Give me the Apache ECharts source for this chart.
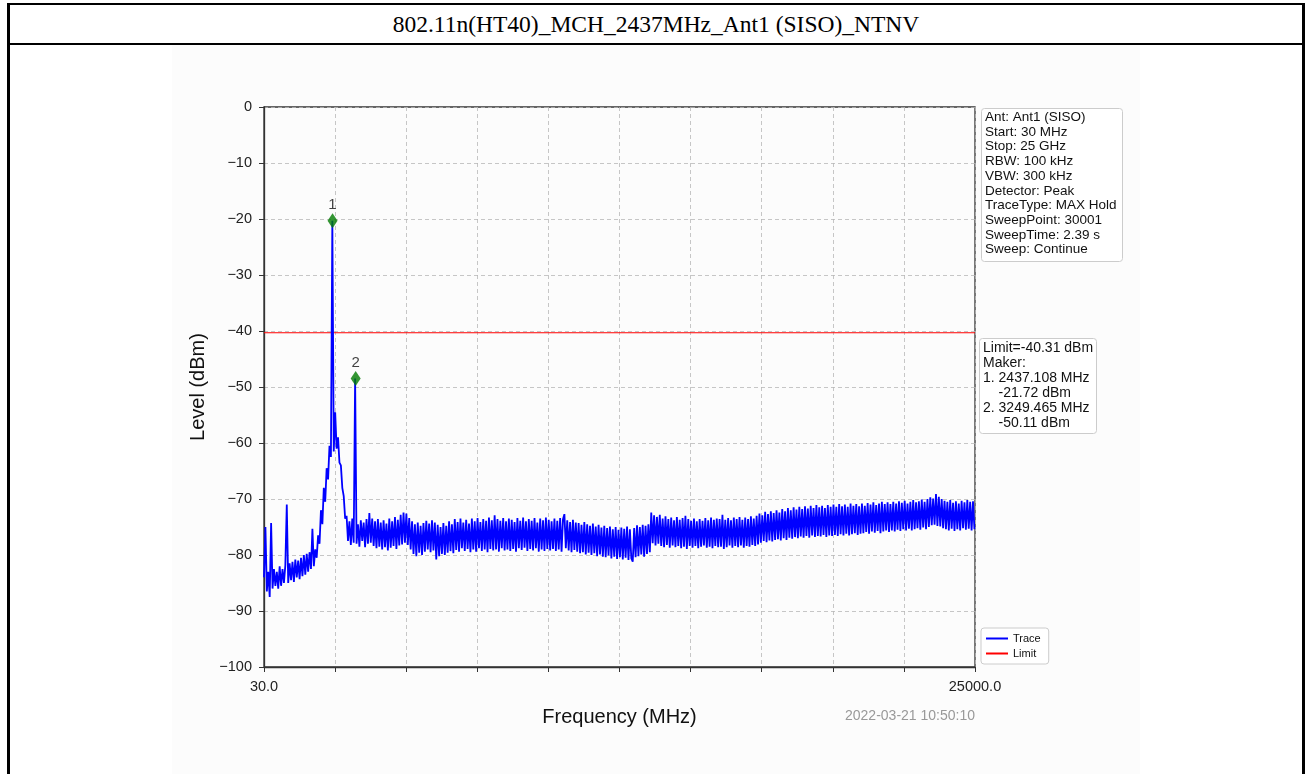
<!DOCTYPE html>
<html>
<head>
<meta charset="utf-8">
<script src="https://cdn.jsdelivr.net/npm/echarts@6/dist/echarts.min.js"></script>
<style>
  html, body { margin: 0; padding: 0; background: #fff; }
  #page { position: relative; width: 1308px; height: 774px; overflow: hidden; }
  .bar { position: absolute; background: #000; }
  #title {
    position: absolute; left: 10px; top: 5px; width: 1292px; height: 38px;
    line-height: 38px; text-align: center;
    font-family: "Liberation Serif", "DejaVu Serif", serif; font-size: 23.5px; color: #000;
  }
  #shade { position: absolute; left: 172px; top: 45px; width: 968px; height: 729px; background: #fcfcfc; }
  #chart { position: absolute; left: 0; top: 0; width: 1308px; height: 774px; }
</style>
</head>
<body>
<div id="page">
  <div id="shade"></div>
  <div class="bar" style="left:7px; top:3px; width:1298px; height:2px;"></div>
  <div class="bar" style="left:7px; top:43px; width:1298px; height:2px;"></div>
  <div class="bar" style="left:7px; top:3px; width:3px; height:771px;"></div>
  <div class="bar" style="left:1302px; top:3px; width:3px; height:771px;"></div>
  <div id="title">802.11n(HT40)_MCH_2437MHz_Ant1 (SISO)_NTNV</div>
  <div id="chart"></div>
</div>
<script>
// sweep settings (MHz)
const sweepStart = 30;
const sweepStop = 25000;
const sweepStep = 50;

// trace level (dBm), one value per 50 MHz step (20 per row = 1 GHz)
const traceLevels = [
  -84, -75, -86.5, -83, -87.5, -74.3, -86, -82.5, -85.5, -83, -86, -82, -85.5, -82.5, -85, -81.8, -71, -85, -81.5, -84.5,
  -81.2, -84.8, -80.8, -84, -81, -84.3, -80.5, -83.8, -80, -83.5, -79.8, -83, -79.5, -82.5, -75.3, -82, -79, -80.5, -76.5, -78,
  -72, -74.5, -68, -70.5, -64.5, -66.5, -60.5, -62.5, -20.3, -61.5, -54.5, -61, -59, -63.5, -64, -68, -69.5, -73.5, -73, -77.5,
  -74, -78.2, -73.5, -77.8, -48.5, -78, -74.5, -78.5, -73.8, -77.5, -74.2, -78.6, -73.6, -78, -72.5, -77.8, -73.5, -78.4, -74, -78.8,
  -73.6, -78.5, -74.2, -79, -73.8, -78.6, -74.4, -79.2, -73.5, -78.7, -74, -78.4, -73.2, -78.9, -73.7, -78.3, -72.8, -78.1, -72.4, -77.8,
  -72.6, -78.2, -73.4, -79, -74, -79.8, -74.5, -80.2, -74.2, -79.6, -74.8, -80, -74.3, -79.4, -73.9, -79, -74.4, -79.5, -73.8, -79.2,
  -74.2, -80.8, -74.6, -80.2, -75, -79.8, -74.3, -80, -74.8, -79.6, -74, -79.3, -74.5, -79.7, -73.6, -79.1, -74.1, -79.4, -73.5, -78.8,
  -74.2, -79.3, -73.7, -78.9, -74.4, -79.5, -73.5, -79, -74, -79.4, -73.4, -78.8, -74.1, -79.3, -73.6, -79, -73.9, -79.5, -73.3, -78.9,
  -73.8, -79.2, -72.9, -79, -73.6, -79.4, -73.9, -78.8, -73.4, -79.2, -74, -79, -73.5, -79.3, -73.7, -78.9, -74.1, -79.4, -73.4, -78.8,
  -73.9, -79.1, -73.3, -78.7, -74, -79.3, -73.6, -78.9, -73.9, -79.2, -73.4, -78.8, -74.2, -79.4, -73.5, -79, -73.8, -79.3, -73.3, -78.9,
  -73.7, -79.2, -74, -78.9, -73.5, -79.3, -73.9, -79, -73.4, -79.4, -73.6, -72.7, -78.8, -73.8, -79.2, -74.1, -79.5, -73.7, -79.1, -74.2,
  -79.4, -74.3, -79.7, -74.6, -79.5, -74.1, -79.9, -74.5, -79.6, -74.8, -80, -74.4, -79.7, -74.9, -80.2, -74.6, -79.9, -75.1, -80.3, -74.8,
  -80.4, -75.2, -80.1, -74.9, -80.6, -75.4, -80.3, -75, -80.7, -75.5, -80.4, -75.1, -80.8, -75.3, -80.5, -74.9, -80.9, -75.4, -80.6, -81.2,
  -75.2, -80.4, -74.7, -80.2, -75, -79.9, -74.6, -80.3, -74.8, -79.8, -74.5, -79.5, -72.4, -77.9, -72.9, -78.3, -73.2, -78, -72.8, -78.4,
  -73.5, -78.6, -73.1, -78.2, -73.6, -78.7, -73.3, -78.3, -73.8, -78.6, -73.2, -78.4, -73.7, -78.8, -73.4, -78.5, -73, -78.9, -73.6, -78.4,
  -73.9, -78.7, -73.5, -78.4, -74, -78.8, -73.6, -78.5, -73.9, -78.3, -73.4, -78.7, -73.8, -78.5, -73.3, -78.8, -73.7, -78.4, -73.5, -78.6,
  -73.6, -78.5, -72.8, -78.9, -73.7, -78.6, -73.4, -78.3, -73.8, -78.7, -73.3, -78.4, -73.6, -78.6, -73.2, -78.3, -73.7, -78.7, -73.3, -78.4,
  -73.6, -78.5, -73.1, -78.2, -73.5, -78.4, -73, -78.1, -72.6, -77.8, -72.9, -77.5, -72.3, -77.7, -72.7, -77.4, -72.2, -77.6, -72.5, -77.3,
  -72, -77.2, -72.4, -77.4, -71.8, -77, -72.2, -77.3, -71.6, -76.9, -72, -77.1, -71.5, -76.8, -71.9, -77, -71.4, -76.7, -71.8, -76.9,
  -71.3, -76.6, -71.7, -76.9, -71.2, -76.5, -71.6, -76.8, -71.1, -76.6, -71.5, -76.7, -71.2, -76.4, -71.6, -76.8, -71.1, -76.5, -71.4, -76.6,
  -71, -76.4, -71.4, -76.6, -70.9, -76.3, -71.3, -76.5, -71, -76.2, -71.4, -76.5, -70.8, -76.3, -71.2, -76.1, -70.9, -76.4, -71.3, -76.2,
  -70.8, -76.1, -71.2, -75.9, -70.7, -76.2, -71, -75.8, -70.6, -76, -71.1, -75.7, -70.8, -76.1, -70.5, -75.8, -70.9, -75.6, -70.6, -75.9,
  -70.9, -75.6, -70.5, -75.8, -70.8, -75.5, -70.4, -75.7, -70.7, -75.4, -70.3, -75.6, -70.8, -75.3, -70.5, -75.6, -70.2, -75.4, -70.6, -75.2,
  -70.4, -75.5, -70.1, -75.1, -70.5, -75.4, -70, -75, -69.7, -74.7, -69.9, -74.6, -69.1, -74.8, -69.6, -74.9, -70, -75.2, -70.3, -75.4,
  -70.5, -75.6, -70.2, -75.3, -70.7, -75.7, -70.4, -75.4, -70.8, -75.6, -70.3, -75.2, -70.6, -75.5, -70.2, -75.3, -70.5, -75.6, -70.4, -75.4
];

const limitLevel = -40.31;

// markers as drawn on the plot
const markerNames = ['1', '2'];
const markerFreqs = [2437.108, 3249.465];
const markerLevels = [-20.3, -48.5];

// y ticks
const yMin = -100;
const yMax = 0;
const yStep = 10;

// x grid divisions (labels only at the ends)
const xDivisions = 10;
const xEndLabels = ['30.0', '25000.0'];

const infoLines = [
  'Ant: Ant1 (SISO)', 'Start: 30 MHz', 'Stop: 25 GHz', 'RBW: 100 kHz', 'VBW: 300 kHz',
  'Detector: Peak', 'TraceType: MAX Hold', 'SweepPoint: 30001', 'SweepTime: 2.39 s', 'Sweep: Continue'
];
const markerLines = [
  'Limit=-40.31 dBm', 'Maker:', '1. 2437.108 MHz', '    -21.72 dBm', '2. 3249.465 MHz', '    -50.11 dBm'
];
const timeStamp = '2022-03-21 10:50:10';

const traceData = traceLevels.map((v, i) => [sweepStart + i * sweepStep, v]);
const markerData = markerFreqs.map((f, i) => ({ value: [f, markerLevels[i]], name: markerNames[i] }));

const font = '"Liberation Sans", Arial, sans-serif';
const chart = echarts.init(document.getElementById('chart'));
chart.setOption({
  animation: false,
  grid: { left: 264, right: 333, top: 107, bottom: 107, show: true, borderColor: '#333', borderWidth: 1.3 },
  xAxis: [
    { type: 'value', min: sweepStart, max: sweepStop, show: false },
    {
      type: 'value', min: 0, max: xDivisions, interval: 1, position: 'bottom',
      name: 'Frequency (MHz)', nameLocation: 'middle', nameGap: 40,
      nameTextStyle: { color: '#111', fontSize: 20, fontFamily: font },
      axisLine: { lineStyle: { color: '#333', width: 1.3 } },
      axisTick: { inside: false, length: 5, lineStyle: { color: '#333' } },
      axisLabel: {
        color: '#222', fontSize: 14.5, fontFamily: font, margin: 12,
        showMinLabel: true, showMaxLabel: true,
        formatter: v => (v === 0 ? xEndLabels[0] : v === xDivisions ? xEndLabels[1] : '')
      },
      splitLine: { show: true, lineStyle: { color: '#b8b8b8', type: [4, 3], width: 0.8 } }
    }
  ],
  yAxis: {
    type: 'value', min: yMin, max: yMax, interval: yStep,
    name: 'Level (dBm)', nameLocation: 'middle', nameGap: 53, nameRotate: 90,
    nameTextStyle: { color: '#111', fontSize: 20, fontFamily: font },
    axisLine: { lineStyle: { color: '#333', width: 1.3 } },
    axisTick: { inside: false, length: 5, lineStyle: { color: '#333' } },
    axisLabel: { color: '#222', fontSize: 14.5, fontFamily: font, margin: 12, formatter: v => String(v).replace('-', '\u2212') },
    splitLine: { show: true, lineStyle: { color: '#b8b8b8', type: [4, 3], width: 0.8 } }
  },
  legend: {
    orient: 'vertical', left: 981, top: 628, itemGap: 4, itemWidth: 22, itemHeight: 2,
    padding: [5, 8, 5, 5], borderColor: '#ccc', borderWidth: 1, borderRadius: 3,
    backgroundColor: '#fff',
    textStyle: { fontSize: 11, fontFamily: font, color: '#111' },
    data: [{ name: 'Trace', icon: 'rect' }, { name: 'Limit', icon: 'rect' }]
  },
  series: [
    {
      name: 'Trace', type: 'line', xAxisIndex: 0, data: traceData, symbol: 'none',
      lineStyle: { color: '#0000ff', width: 1.8 }, itemStyle: { color: '#0000ff' }, z: 3
    },
    {
      name: 'Limit', type: 'line', xAxisIndex: 0, data: [[sweepStart, limitLevel], [sweepStop, limitLevel]],
      symbol: 'none', lineStyle: { color: '#ff0000', width: 1.2 }, itemStyle: { color: '#ff0000' }, z: 2
    },
    {
      name: 'Marker', type: 'scatter', xAxisIndex: 0, data: markerData, symbol: 'diamond', symbolSize: [10, 15],
      itemStyle: { color: '#007a00' }, z: 5,
      label: { show: true, position: 'top', distance: 1, formatter: p => p.name, color: '#111', fontSize: 15, fontFamily: font }
    }
  ],
  graphic: [
    { type: 'rect', left: 981, top: 108, shape: { width: 141, height: 153, r: 3 }, style: { fill: '#fff', stroke: '#ccc', lineWidth: 1 } },
    { type: 'text', left: 985, top: 110, style: { text: infoLines.join('\n'), font: '13.5px ' + font, lineHeight: 14.7, fill: '#111' } },
    { type: 'rect', left: 979, top: 338, shape: { width: 117, height: 95, r: 3 }, style: { fill: '#fff', stroke: '#ccc', lineWidth: 1 } },
    { type: 'text', left: 983, top: 341, style: { text: markerLines.join('\n'), font: '14px ' + font, lineHeight: 15, fill: '#111' } },
    { type: 'text', left: 845, top: 709, style: { text: timeStamp, font: '14px ' + font, fill: '#999' } }
  ]
});
window.addEventListener('resize', () => chart.resize());
</script>
</body>
</html>
